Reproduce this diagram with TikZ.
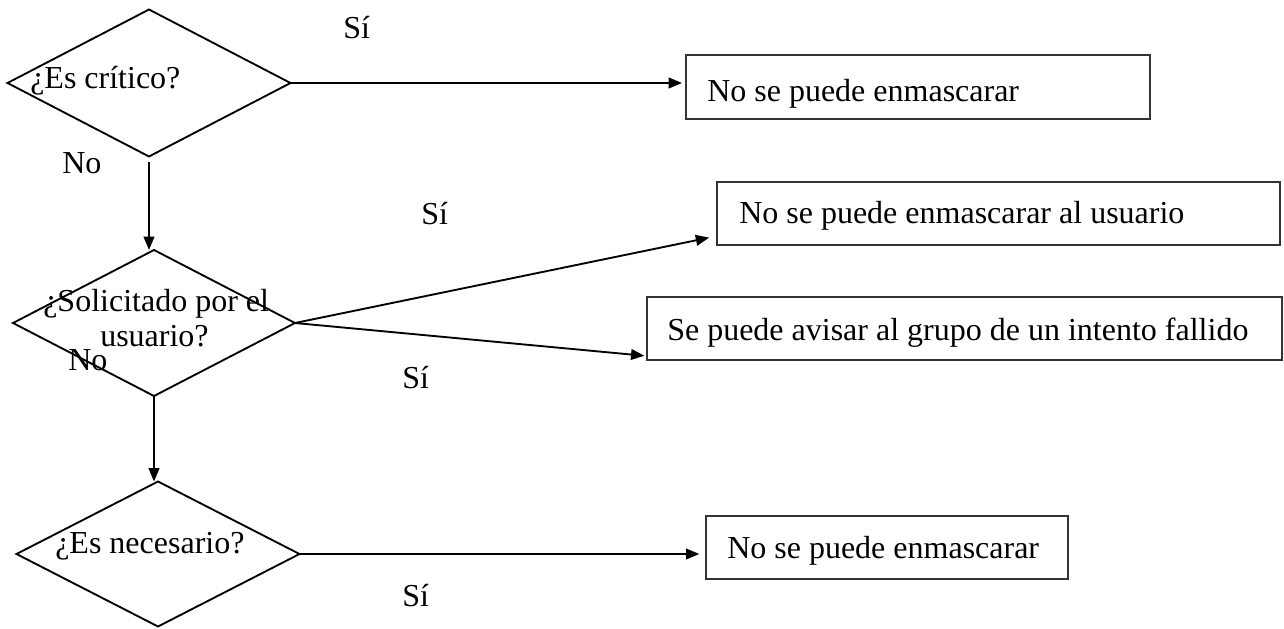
\documentclass[tikz,border=0pt]{standalone}
\usepackage{fontspec}
\setmainfont{Liberation Serif}
\usetikzlibrary{shapes.geometric,arrows.meta,calc}
\begin{document}
\begin{tikzpicture}[x=0.75pt,y=-0.75pt,
  decision/.style={draw,diamond,line width=1.4pt,inner sep=0pt,outer sep=0pt},
  outbox/.style={draw=black!80,line width=1.1pt,inner sep=0pt,outer sep=0pt},
  txt/.style={anchor=base west,inner sep=0pt,font=\fontsize{24}{28}\selectfont},
  arr/.style={line width=1.4pt,-{Triangle[length=10pt,width=8pt]}}]
\useasboundingbox (0,0) rectangle (1284,628);

% decision diamonds
\node[decision,minimum width=283*0.75pt,minimum height=147*0.75pt] (d1) at (149,83) {};
\node[decision,minimum width=282*0.75pt,minimum height=146*0.75pt] (d2) at (154,323) {};
\node[decision,minimum width=283*0.75pt,minimum height=145*0.75pt] (d3) at (158,554) {};

% result boxes
\node[outbox,minimum width=464*0.75pt,minimum height=64*0.75pt] (b1) at (918,87) {};
\node[outbox,minimum width=563*0.75pt,minimum height=63*0.75pt] (b2) at (998.5,213.5) {};
\node[outbox,minimum width=635*0.75pt,minimum height=63*0.75pt] (b3) at (964.5,328.5) {};
\node[outbox,minimum width=362*0.75pt,minimum height=63*0.75pt] (b4) at (887,547.5) {};

% texts inside the diamonds
\node[txt] (t1) at (30,88) {¿Es crítico?};
\node[txt] (t2a) at (43,311) {¿Solicitado por el};
\node[txt] (t2b) at (100,346) {usuario?};
\node[txt] (t3) at (55,553) {¿Es necesario?};

% texts inside the boxes
\node[txt] (tb1) at (707,101) {No se puede enmascarar};
\node[txt] (tb2) at (739,223) {No se puede enmascarar al usuario};
\node[txt] (tb3) at (667,340) {Se puede avisar al grupo de un intento fallido};
\node[txt] (tb4) at (727,558) {No se puede enmascarar};

% branch labels
\node[txt] (s1) at (343,38) {Sí};
\node[txt] (n1) at (62,173) {No};
\node[txt] (s2) at (421,224) {Sí};
\node[txt] (s3) at (402,388) {Sí};
\node[txt] (n2) at (68,370) {No};
\node[txt] (s4) at (402,606) {Sí};

% connectors
\coordinate (b2in) at ($(b2.south west)+(0,-9)$);
\coordinate (b3in) at ($(b3.south west)+(0,-4)$);
\draw[arr,shorten >=3pt] (d1.east) -- (d1.east -| b1.west);
\draw[arr] ($(d1.south)+(0,5)$) -- (d1.south |- d2.north);
\draw[arr,shorten >=6pt] (d2.east) -- (b2in);
\draw[arr,shorten >=2pt] (d2.east) -- (b3in);
\draw[arr] (d2.south) -- (d2.south |- d3.north);
\draw[arr,shorten >=5pt] (d3.east) -- (d3.east -| b4.west);
\end{tikzpicture}
\end{document}
